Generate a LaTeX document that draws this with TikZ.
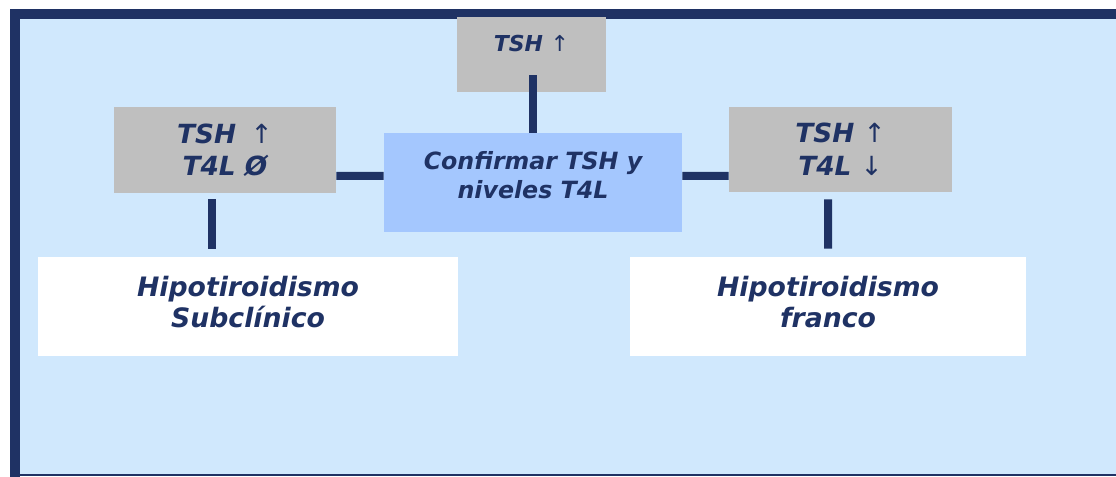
\documentclass[tikz,border=0pt]{standalone}
\usepackage{fontspec}
\setsansfont{DejaVu Sans}
\usepackage{xcolor}
\usepackage{tikz}
\usetikzlibrary{shapes,arrows,positioning,calc}
\definecolor{hiponavy}{HTML}{1F3264}
\definecolor{hipobg}{HTML}{D0E8FD}
\definecolor{hipogray}{HTML}{BFBFBF}
\definecolor{hipoblue}{HTML}{A4C7FE}
\newcommand{\flup}{{\mdseries\upshape ↑}}
\newcommand{\fldown}{{\mdseries\upshape ↓}}
\tikzset{
    labbox/.style={fill=hipogray, inner sep=0pt, align=center, text=hiponavy,
                   font=\sffamily\bfseries\itshape\fontsize{15}{18.5}\selectfont},
    diagbox/.style={fill=white, inner sep=0pt, align=center, text=hiponavy, text depth=0.2cm,
                    font=\sffamily\bfseries\itshape\fontsize{15.2}{17.6}\selectfont},
    hipolink/.style={draw=hiponavy, line width=0.16cm}
}

\begin{document}
\begin{tikzpicture}
        \useasboundingbox (0,0) rectangle (22.32,-9.54);
        \fill[hipobg] (0.4,-0.38) rectangle (22.4,-9.5);
        \draw[hiponavy, line width=0.2cm] (22.5,-0.28) -- (0.3,-0.28) -- (0.3,-9.6);
        \draw[hiponavy, line width=0.6pt] (0.3,-9.5) -- (22.5,-9.5);

        \node[labbox, minimum width=2.98cm, minimum height=1.5cm, text depth=0.45cm,
              font=\sffamily\bfseries\itshape\fontsize{12.5}{15}\selectfont] (tsh) at (10.63,-1.09) {TSH \flup};
        \node[labbox, minimum width=4.44cm, minimum height=1.72cm] (lsh) at (4.5,-3.0) {TSH\hspace{3pt} \flup\\T4L Ø};
        \node[labbox, minimum width=4.46cm, minimum height=1.7cm] (rsh) at (16.81,-2.99) {TSH \flup\\T4L \fldown};
        \node[labbox, fill=hipoblue, minimum width=5.96cm, minimum height=1.98cm, text depth=0.3cm,
              font=\sffamily\bfseries\itshape\fontsize{13.5}{17}\selectfont] (conf) at (10.66,-3.65) {Confirmar TSH y\\niveles T4L};
        \node[diagbox, minimum width=8.4cm, minimum height=1.98cm] (sub) at (4.96,-6.13) {Hipotiroidismo\\Subclínico};
        \node[diagbox, minimum width=7.92cm, minimum height=1.98cm] (fra) at (16.56,-6.13) {Hipotiroidismo\\franco};

        \draw[hipolink] (conf.north) -- ([yshift=0.34cm]tsh.south -| conf.north);
        \draw[hipolink] ([yshift=-0.52cm]lsh.east) -- ([yshift=0.13cm]conf.west);
        \draw[hipolink] ([yshift=0.13cm]conf.east) -- ([yshift=-0.53cm]rsh.west);
        \draw[hipolink] ([xshift=-0.26cm,yshift=-0.12cm]lsh.south) -- ([xshift=-0.72cm,yshift=0.16cm]sub.north);
        \draw[hipolink] ([xshift=-0.25cm,yshift=-0.14cm]rsh.south) -- ([yshift=0.16cm]fra.north);
    \end{tikzpicture}
\end{document}
